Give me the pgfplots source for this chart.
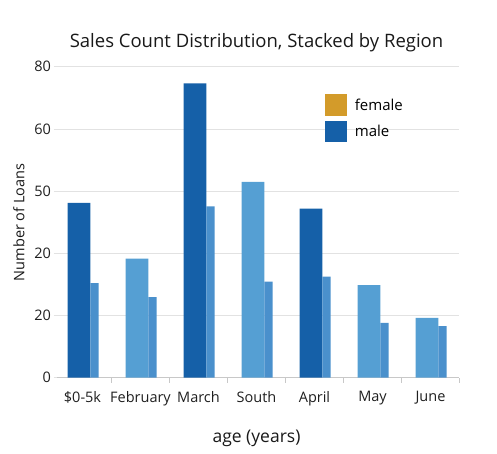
\documentclass[border=0pt]{standalone}
\usepackage{pgfplots}
\pgfplotsset{compat=1.18}
\usepackage{fontspec}
\setmainfont{Open Sans}
\definecolor{darkblue}{HTML}{1560A8}
\definecolor{medblue}{HTML}{559FD3}
\definecolor{secblue}{HTML}{4A90CC}
\definecolor{gold}{HTML}{D39B2A}
\definecolor{gridgray}{HTML}{E2E2E2}
\definecolor{axgray}{HTML}{C8C8C8}
\begin{document}
\begin{tikzpicture}
\useasboundingbox (-53.5pt,-75.3pt) rectangle (443.5pt,377.7pt);
\begin{axis}[
  at={(0pt,0pt)}, anchor=south west,
  scale only axis, width=406pt, height=311pt,
  xmin=-0.5, xmax=6.5, ymin=0, ymax=80,
  axis x line*=bottom, axis y line*=left,
  y axis line style={draw=none},
  x axis line style={draw=axgray, line width=0.8pt, shorten <=3.5pt},
  xtick={0,...,6},
  xticklabels={\$0-5k,February,March,South,April,May,June},
  minor xtick={0.5,1.5,...,6.5},
  tick align=outside,
  major tick length=0pt, minor tick length=5pt,
  minor tick style={draw=axgray, line width=0.8pt},
  ytick={0,16,32,48,64,80},
  yticklabels={0,20,20,50,60,80},
  ytick style={draw=none},
  ymajorgrids, grid style={draw=gridgray, line width=0.8pt},
  xticklabel style={font=\fontsize{14.5}{16}\selectfont, text=black!88, yshift=-10pt},
  yticklabel style={font=\fontsize{14.5}{16}\selectfont, text=black!88, xshift=1pt},
  xlabel={age (years)},
  xlabel style={font=\fontsize{17.5}{20}\selectfont, text=black!90, yshift=-17pt},
  ylabel={Number of Loans},
  ylabel style={font=\fontsize{14.5}{16}\selectfont, text=black!90, yshift=3pt},
  title={Sales Count Distribution, Stacked by Region},
  title style={font=\fontsize{18.5}{21}\selectfont, text=black!90, yshift=5pt},
  legend style={draw=none, fill=none, at={(0.669,0.912)}, anchor=north west,
    font=\fontsize{15}{17}\selectfont, row sep=5pt, inner sep=0pt,
    nodes={inner xsep=8pt}},
  legend cell align=left,
  legend image code/.code={\fill[#1,draw=none] (0pt,-10.75pt) rectangle (21.5pt,10.75pt);},
  clip=false,
]
\addlegendimage{fill=gold,draw=none}
\addlegendentry{female}
\addlegendimage{fill=darkblue,draw=none}
\addlegendentry{male}
% main bars, dark
\addplot[ybar, bar width=0.392, bar shift=-0.06, fill=darkblue, draw=none, forget plot]
  coordinates {(0,45.0) (2,75.7) (4,43.5)};
% main bars, medium
\addplot[ybar, bar width=0.392, bar shift=-0.06, fill=medblue, draw=none, forget plot]
  coordinates {(1,30.6) (3,50.4) (5,23.8) (6,15.4)};
% secondary bars
\addplot[ybar, bar width=0.145, bar shift=0.207, fill=secblue, draw=none, forget plot]
  coordinates {(0,24.3) (1,20.7) (2,44.1) (3,24.7) (4,26.0) (5,14.1) (6,13.3)};
\end{axis}
\end{tikzpicture}
\end{document}
